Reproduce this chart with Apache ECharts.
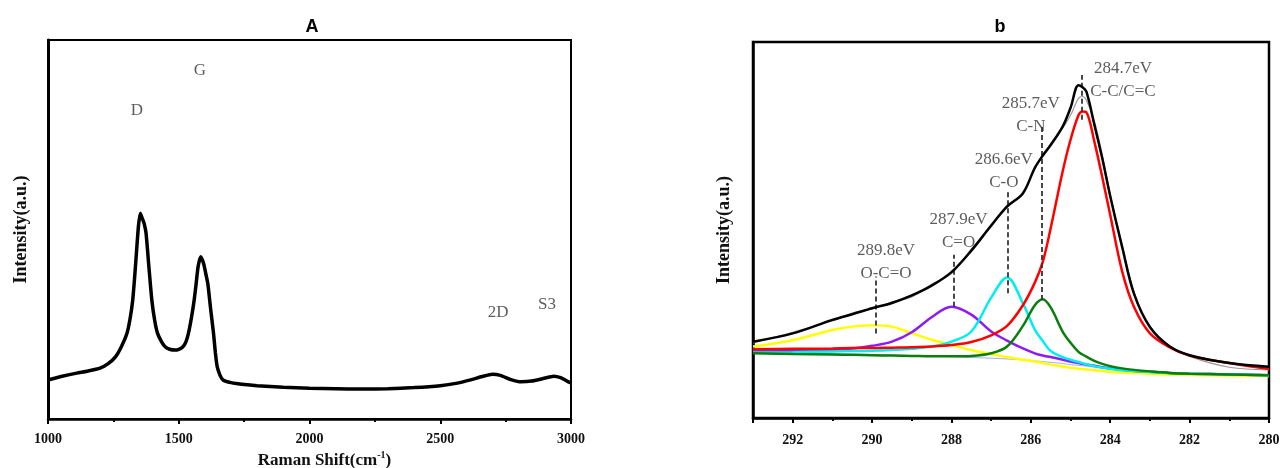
<!DOCTYPE html>
<html>
<head>
<meta charset="utf-8">
<title>Raman / XPS C1s</title>
<script src="https://cdn.jsdelivr.net/npm/echarts@6/dist/echarts.min.js"></script>
<style>
  html, body { margin: 0; padding: 0; background: #fff; }
  #chart { width: 1280px; height: 468px; }
</style>
</head>
<body>
<div id="chart"></div>
<script>
// ---- panel A : Raman spectrum ----
var ramanShift = [1000, 1050, 1110, 1150, 1199, 1230, 1258, 1280, 1302, 1314, 1324, 1332, 1339, 1346, 1353, 1360, 1368, 1375, 1386, 1397, 1408, 1419, 1435, 1449, 1465, 1486, 1500, 1515, 1527, 1537, 1548, 1559, 1567, 1574, 1584, 1595, 1603, 1611, 1622, 1633, 1640, 1647, 1658, 1669, 1700, 1750, 1800, 1900, 2000, 2100, 2200, 2300, 2400, 2500, 2560, 2620, 2660, 2700, 2730, 2770, 2810, 2850, 2890, 2934, 2960, 2985, 3000];
var ramanIntensity = [10.3, 11.2, 12.1, 12.6, 13.4, 14.6, 16.4, 19.0, 22.6, 26.5, 31.4, 38.0, 44.6, 51.0, 54.3, 53.0, 51.5, 49.0, 40.0, 31.4, 26.0, 22.6, 20.3, 19.0, 18.4, 18.2, 18.4, 19.0, 20.3, 22.6, 26.5, 31.4, 36.0, 40.2, 42.8, 41.0, 38.5, 35.8, 29.0, 22.6, 17.5, 13.8, 11.5, 10.3, 9.6, 9.1, 8.8, 8.4, 8.1, 8.0, 7.9, 8.0, 8.3, 8.8, 9.4, 10.4, 11.2, 11.8, 11.5, 10.4, 9.8, 10.0, 10.6, 11.3, 10.9, 10.0, 9.5];
var ramanBandNames = ['D', 'G', '2D', 'S3'];
var ramanBandPos = [[1340, 81.5], [1581, 92], [2721, 28], [2908, 30.3]];

// ---- panel b : C1s fit ----
var bindingEnergy = [293, 292, 291, 290.5, 290, 289.5, 289, 288.5, 288, 287.5, 287, 286.6, 286.2, 285.9, 285.7, 285.5, 285.2, 285.0, 284.8, 284.7, 284.6, 284.4, 284.2, 284.0, 283.7, 283.4, 283.0, 282.5, 282.0, 281.0, 280];
var envelope = [20.3, 22.5, 26.1, 27.6, 29.2, 30.6, 32.6, 35.2, 38.8, 44.5, 51.2, 56.2, 59.8, 66.5, 69.8, 72.6, 77.5, 82.5, 88.5, 88.0, 86.8, 78.0, 69.0, 59.0, 45.5, 33.0, 24.2, 19.0, 16.7, 14.6, 13.6];
var rawData = [20.0, 22.8, 25.8, 27.9, 29.0, 30.9, 32.2, 35.6, 38.4, 44.9, 50.8, 56.6, 59.4, 66.9, 69.4, 73.0, 77.0, 80.5, 85.0, 85.5, 84.5, 79.0, 70.0, 59.5, 46.0, 33.5, 24.0, 19.2, 16.4, 13.5, 12.8];
var peakCC = [18.3, 18.4, 18.5, 18.6, 18.6, 18.7, 18.8, 19.0, 19.4, 20.2, 22.0, 24.5, 30.0, 36.0, 41.5, 50.5, 65.5, 74.0, 80.5, 81.5, 81.3, 73.5, 64.0, 54.0, 39.0, 29.5, 22.5, 18.8, 16.6, 14.6, 13.0];
var peakCN = [17.2, 17.0, 16.9, 16.8, 16.7, 16.6, 16.5, 16.4, 16.4, 16.5, 17.2, 19.0, 24.5, 30.0, 31.6, 29.4, 23.0, 20.0, 17.6, 16.9, 16.3, 15.2, 14.4, 13.8, 13.2, 12.8, 12.4, 12.0, 11.8, 11.6, 11.4];
var peakCO = [17.4, 17.5, 17.7, 17.8, 17.9, 18.1, 18.4, 19.0, 20.3, 23.0, 32.0, 37.4, 30.5, 23.5, 20.5, 17.8, 16.2, 15.5, 14.9, 14.6, 14.3, 13.8, 13.4, 13.1, 12.7, 12.5, 12.2, 11.9, 11.8, 11.6, 11.4];
var peakCdO = [17.9, 17.9, 18.1, 18.5, 19.2, 20.3, 22.8, 26.8, 29.6, 27.5, 23.0, 20.6, 18.5, 17.2, 16.6, 16.2, 15.5, 15.0, 14.6, 14.4, 14.2, 13.9, 13.5, 13.2, 12.8, 12.5, 12.3, 12.0, 11.8, 11.6, 11.4];
var peakOCO = [19.0, 20.7, 23.4, 24.3, 24.7, 24.3, 22.5, 20.8, 19.4, 18.0, 17.0, 16.2, 15.5, 15.0, 14.6, 14.2, 13.7, 13.4, 13.1, 13.0, 12.9, 12.7, 12.5, 12.3, 12.1, 12.0, 11.8, 11.6, 11.5, 11.3, 11.2];
var background = [17.5, 17.3, 17.1, 17.0, 16.9, 16.75, 16.6, 16.45, 16.3, 16.1, 15.9, 15.7, 15.45, 15.2, 15.0, 14.8, 14.5, 14.2, 14.0, 13.9, 13.8, 13.5, 13.25, 13.0, 12.7, 12.45, 12.2, 11.9, 11.7, 11.4, 11.3];

var peakCenters = [289.9, 287.93, 286.58, 285.73, 284.72];
var dashBottom = [22.5, 29.6, 33.2, 31.4, 79.3];
var dashTop = [37.6, 43.4, 60.6, 77.5, 91.2];
var peakLabels = ['289.8eV\nO-C=O', '287.9eV\nC=O', '286.6eV\nC-O', '285.7eV\nC-N', '284.7eV\nC-C/C=C'];
var peakLabelPos = [[289.65, 41.6], [287.82, 49.7], [286.68, 65.6], [286.0, 80.7], [283.68, 90.0]];

function zip(xs, ys) {
  return xs.map(function (x, i) { return [x, ys[i]]; });
}

var serif = '"Liberation Serif", "Times New Roman", serif';
var axisLine = { show: true, onZero: false, lineStyle: { color: '#000', width: 2.5 } };
var axisTick = { show: true, inside: false, length: 5, lineStyle: { color: '#000', width: 2 } };
var minorTick = { show: true, splitNumber: 2, length: 3, lineStyle: { color: '#000', width: 2 } };
var yNameStyle = { color: '#111', fontFamily: serif, fontWeight: 'bold', fontSize: 18 };

var chart = echarts.init(document.getElementById('chart'));

function fitLine(name, data, color, width, z) {
  return {
    name: name, type: 'line', xAxisIndex: 1, yAxisIndex: 1,
    data: zip(bindingEnergy, data), showSymbol: false, symbol: 'none',
    smooth: 0.35, z: z,
    lineStyle: { color: color, width: width }
  };
}

chart.setOption({
  animation: false,
  backgroundColor: '#fff',
  title: [
    { text: 'A', left: 307, top: 13, textAlign: 'center',
      textStyle: { fontFamily: '"Liberation Sans", Arial, sans-serif', fontWeight: 'bold', fontSize: 18, color: '#000' } },
    { text: 'b', left: 995, top: 13, textAlign: 'center',
      textStyle: { fontFamily: '"Liberation Sans", Arial, sans-serif', fontWeight: 'bold', fontSize: 18, color: '#000' } }
  ],
  grid: [
    { left: 48, right: 709, top: 40, bottom: 49, outerBoundsMode: 'none', containLabel: false,
      show: true, borderColor: '#000', borderWidth: 2 },
    { left: 753, right: 11, top: 42, bottom: 50, outerBoundsMode: 'none', containLabel: false,
      show: true, borderColor: '#000', borderWidth: 2.5 }
  ],
  xAxis: [
    {
      gridIndex: 0, type: 'value', min: 1000, max: 3000, interval: 500,
      name: 'Raman Shift(cm{sup|-1})', nameLocation: 'middle', nameGap: 31,
      nameTextStyle: {
        color: '#111', fontFamily: serif, fontWeight: 'bold', fontSize: 17, padding: [0, 0, 0, 30],
        rich: { sup: { fontFamily: serif, fontWeight: 'bold', fontSize: 10, padding: [0, 0, 10, 0], color: '#111' } }
      },
      axisLine: axisLine, axisTick: axisTick, minorTick: minorTick,
      splitLine: { show: false },
      axisLabel: { color: '#111', fontFamily: serif, fontWeight: 'bold', fontSize: 14, margin: 13,
        formatter: function (v) { return String(v); } }
    },
    {
      gridIndex: 1, type: 'value', min: 280, max: 293, interval: 2, inverse: true,
      axisLine: axisLine, axisTick: axisTick, minorTick: minorTick,
      splitLine: { show: false },
      axisLabel: { color: '#111', fontFamily: serif, fontWeight: 'bold', fontSize: 14, margin: 15,
        formatter: function (v) { return v === 293 ? '' : String(v); } }
    }
  ],
  yAxis: [
    { gridIndex: 0, type: 'value', min: 0, max: 100,
      name: 'Intensity(a.u.)', nameLocation: 'middle', nameGap: 18, nameTextStyle: yNameStyle,
      axisLine: { show: true, lineStyle: { color: '#000', width: 3 } },
      axisTick: { show: false }, axisLabel: { show: false }, splitLine: { show: false } },
    { gridIndex: 1, type: 'value', min: 0, max: 100,
      name: 'Intensity(a.u.)', nameLocation: 'middle', nameGap: 20, nameTextStyle: yNameStyle,
      axisLine: { show: true, lineStyle: { color: '#000', width: 2.5 } },
      axisTick: { show: false }, axisLabel: { show: false }, splitLine: { show: false } }
  ],
  series: [
    {
      name: 'Raman', type: 'line', xAxisIndex: 0, yAxisIndex: 0,
      data: zip(ramanShift, ramanIntensity), symbol: 'none', smooth: 0.2,
      lineStyle: { color: '#000', width: 3.5 }
    },
    {
      name: 'bands', type: 'scatter', xAxisIndex: 0, yAxisIndex: 0, silent: true,
      symbolSize: 0,
      data: ramanBandPos.map(function (p, i) { return { value: p, name: ramanBandNames[i] }; }),
      label: { show: true, position: 'inside', formatter: '{b}', color: '#333',
        fontFamily: serif, fontSize: 17 }
    },
    fitLine('background', background, '#a9a9f5', 1, 1),
    fitLine('raw', rawData, '#9a9a9a', 1.2, 2),
    fitLine('O-C=O', peakOCO, '#ffff00', 2.5, 3),
    fitLine('C=O', peakCdO, '#8c1cf0', 2.5, 3),
    fitLine('C-O', peakCO, '#00eeee', 2.5, 3),
    fitLine('C-N', peakCN, '#0a7d0a', 2.5, 3),
    fitLine('C-C/C=C', peakCC, '#ff0000', 2.5, 4),
    Object.assign(fitLine('envelope', envelope, '#000', 2.5, 5), {
      markLine: {
        silent: true, symbol: ['none', 'none'], animation: false,
        label: { show: false },
        lineStyle: { color: '#333', width: 1.8, type: [5, 3] },
        data: peakCenters.map(function (c, i) {
          return [{ coord: [c, dashBottom[i]] }, { coord: [c, dashTop[i]] }];
        })
      }
    }),
    {
      name: 'peakLabels', type: 'scatter', xAxisIndex: 1, yAxisIndex: 1, silent: true,
      symbolSize: 0, z: 6,
      data: peakLabelPos.map(function (p, i) { return { value: p, name: peakLabels[i] }; }),
      label: { show: true, position: 'inside', formatter: '{b}', color: '#333',
        fontFamily: serif, fontSize: 17, lineHeight: 23, align: 'center' }
    }
  ]
});
</script>
</body>
</html>
